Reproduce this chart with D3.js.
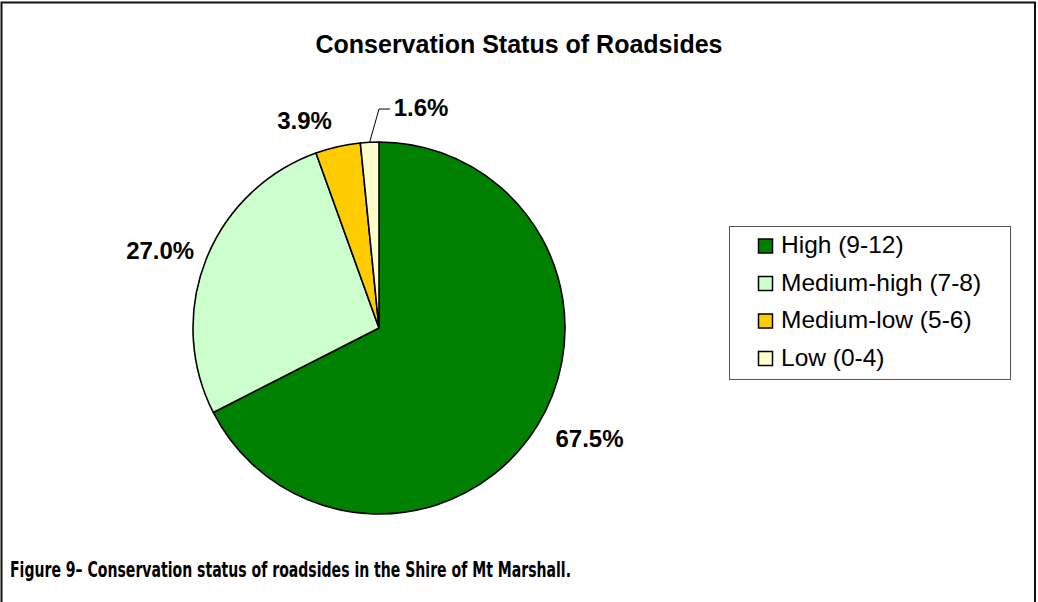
<!DOCTYPE html>
<html lang="en">
<head>
<meta charset="utf-8">
<title>Conservation Status of Roadsides</title>
<script src="https://cdn.jsdelivr.net/npm/d3@7"></script>
<style>
  body { margin: 0; background: #fff; }
  text { font-family: Arial, "Liberation Sans", sans-serif; fill: #000; }
  .caption { font-family: "Liberation Sans Narrow", "DejaVu Sans Condensed", "Arial Narrow", sans-serif; font-weight: bold; }
</style>
</head>
<body>
<svg id="chart" width="1038" height="602"></svg>
<script>
// data
var categories = ["High (9-12)", "Medium-high (7-8)", "Medium-low (5-6)", "Low (0-4)"];
var values = [67.5, 27.0, 3.9, 1.6];
var colours = ["#008000", "#CCFFCC", "#FFCC00", "#FFFFCC"];

var svg = d3.select("svg#chart"),
    width = +svg.attr("width"),
    height = +svg.attr("height");

// outer frame (bottom edge runs off the page)
svg.append("path")
    .attr("d", "M1.5,612 L1.5,2.5 L1035,2.5 L1035,612")
    .attr("fill", "none")
    .attr("stroke", "#111")
    .attr("stroke-width", 2);

svg.append("text")
    .attr("x", 519)
    .attr("y", 53)
    .attr("text-anchor", "middle")
    .style("font-size", "25px")
    .style("font-weight", "bold")
    .text("Conservation Status of Roadsides");

var cx = 379, cy = 328, radius = 186;

var pie = d3.pie().sort(null).value(function(d) { return d; });
var arcs = pie(values);
var arc = d3.arc().innerRadius(0).outerRadius(radius);

var g = svg.append("g").attr("transform", "translate(" + cx + "," + cy + ")");

g.selectAll("path.slice")
  .data(arcs)
  .enter().append("path")
    .attr("class", "slice")
    .attr("d", arc)
    .attr("fill", function(d, i) { return colours[i]; })
    .attr("stroke", "#000")
    .attr("stroke-width", 1.6)
    .attr("stroke-linejoin", "round");

// label placement: nudge (degrees) and distance from centre
var nudge = [-3.7, -2.2, -7, 13.7];
var dist = [238, 232, 220, 224];

function labelPos(d, i) {
  var a = (d.startAngle + d.endAngle) / 2 + nudge[i] * Math.PI / 180;
  return [dist[i] * Math.sin(a), -dist[i] * Math.cos(a)];
}

// leader line for the smallest slice
var last = arcs[arcs.length - 1];
var midA = (last.startAngle + last.endAngle) / 2;
var p0 = [radius * Math.sin(midA), -radius * Math.cos(midA)];
var p1 = [0, -(radius + 33)];
g.append("path")
    .attr("d", "M" + p0 + "L" + p1 + "l11,0")
    .attr("fill", "none")
    .attr("stroke", "#000")
    .attr("stroke-width", 1);

g.selectAll("text.lbl")
  .data(arcs)
  .enter().append("text")
    .attr("class", "lbl")
    .attr("x", function(d, i) { return labelPos(d, i)[0]; })
    .attr("y", function(d, i) { return labelPos(d, i)[1] + 8; })
    .attr("text-anchor", "middle")
    .style("font-size", "24px")
    .style("font-weight", "bold")
    .text(function(d) { return d3.format(".1f")(d.data) + "%"; });

// legend
var legend = svg.append("g");
legend.append("rect")
    .attr("x", 729.5).attr("y", 226.5)
    .attr("width", 281).attr("height", 153)
    .attr("fill", "#fff")
    .attr("stroke", "#555")
    .attr("stroke-width", 1);

var rowY = d3.scalePoint().domain(categories).range([253, 365.5]);

var item = legend.selectAll("g.item")
  .data(categories)
  .enter().append("g")
    .attr("class", "item")
    .attr("transform", function(d) { return "translate(0," + rowY(d) + ")"; });

item.append("rect")
    .attr("x", 758.5).attr("y", -14)
    .attr("width", 14).attr("height", 14)
    .attr("fill", function(d, i) { return colours[i]; })
    .attr("stroke", "#000")
    .attr("stroke-width", 1.5);

item.append("text")
    .attr("x", 781)
    .attr("y", 0)
    .style("font-size", "24.5px")
    .text(function(d) { return d; });

svg.append("text")
    .attr("class", "caption")
    .attr("x", 10)
    .attr("y", 577)
    .attr("textLength", 561)
    .attr("lengthAdjust", "spacingAndGlyphs")
    .style("font-size", "22px")
    .text("Figure 9\u2013 Conservation status of roadsides in the Shire of Mt Marshall.");
</script>
</body>
</html>
